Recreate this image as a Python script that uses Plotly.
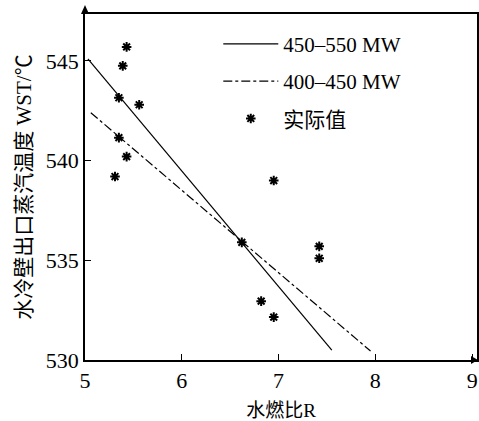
import plotly.graph_objects as go

# Data
ratio_actual = [5.43, 5.39, 5.35, 5.56, 5.35, 5.43, 5.31, 6.62, 6.95, 7.42, 7.42, 6.82, 6.95]
temp_actual = [545.7, 544.75, 543.15, 542.8, 541.15, 540.2, 539.2, 535.9, 539.0, 535.7, 535.1, 532.95, 532.15]

ratio_fit_high = [5.03, 7.55]
temp_fit_high = [545.1, 530.5]

ratio_fit_low = [5.06, 7.95]
temp_fit_low = [542.4, 530.45]

x_ticks = [5, 6, 7, 8, 9]
y_ticks = [530, 535, 540, 545]

FONT = "Liberation Serif, Times New Roman, Noto Sans CJK SC, serif"

fig = go.Figure()
fig.add_trace(go.Scatter(x=ratio_fit_high, y=temp_fit_high, mode="lines",
                         line=dict(color="black", width=1.2),
                         name="450\u2013550 MW", legendgroup="a"))
fig.add_trace(go.Scatter(x=ratio_fit_low, y=temp_fit_low, mode="lines",
                         line=dict(color="black", width=1.2, dash="dashdot"),
                         name="400\u2013450 MW", legendgroup="b"))
fig.add_trace(go.Scatter(x=ratio_actual, y=temp_actual, mode="markers",
                         marker=dict(symbol="asterisk-open", size=8, color="black",
                                     line=dict(color="black", width=2)),
                         name="实际值", legendgroup="c"))

fig.update_layout(
    width=479, height=421,
    margin=dict(l=85, r=2, t=14, b=61, autoexpand=False),
    paper_bgcolor="white", plot_bgcolor="white",
    font=dict(family=FONT, color="black", size=18),
    showlegend=True,
    legend=dict(x=0.34, y=0.972, xanchor="left", yanchor="top",
                bgcolor="rgba(0,0,0,0)", font=dict(size=21, family=FONT),
                traceorder="grouped", tracegroupgap=7, itemwidth=55),
    xaxis=dict(range=[5, 9.05], tickvals=x_ticks, ticks="inside", ticklen=6,
               tickcolor="black", showline=True, linecolor="black", linewidth=1.5,
               mirror=True, showgrid=False, zeroline=False, automargin=False,
               tickfont=dict(size=22, family=FONT),
               title=dict(text="水燃比R", font=dict(size=19, family=FONT), standoff=12)),
    yaxis=dict(range=[530, 547.35], tickvals=y_ticks, ticks="inside", ticklen=6,
               tickcolor="black", showline=True, linecolor="black", linewidth=1.5,
               mirror=True, showgrid=False, zeroline=False, automargin=False,
               tickfont=dict(size=22, family=FONT),
               title=dict(text="水冷壁出口蒸汽温度 WST/℃", font=dict(size=21, family=FONT), standoff=8)),
)

# Axis arrowheads drawn as small pixel-sized triangles
fig.add_shape(type="path", xref="paper", yref="paper",
              xsizemode="pixel", ysizemode="pixel", xanchor=0, yanchor=1,
              path="M -4,0 L 4,0 L 0,9 Z", fillcolor="black", line=dict(width=0))
fig.add_shape(type="path", xref="paper", yref="paper",
              xsizemode="pixel", ysizemode="pixel", xanchor=1, yanchor=0,
              path="M -6,-4 L -6,4 L 1,0 Z", fillcolor="black", line=dict(width=0))

fig.write_html("out.html", config={"displayModeBar": False},
               post_script="document.body.style.margin='0';")
